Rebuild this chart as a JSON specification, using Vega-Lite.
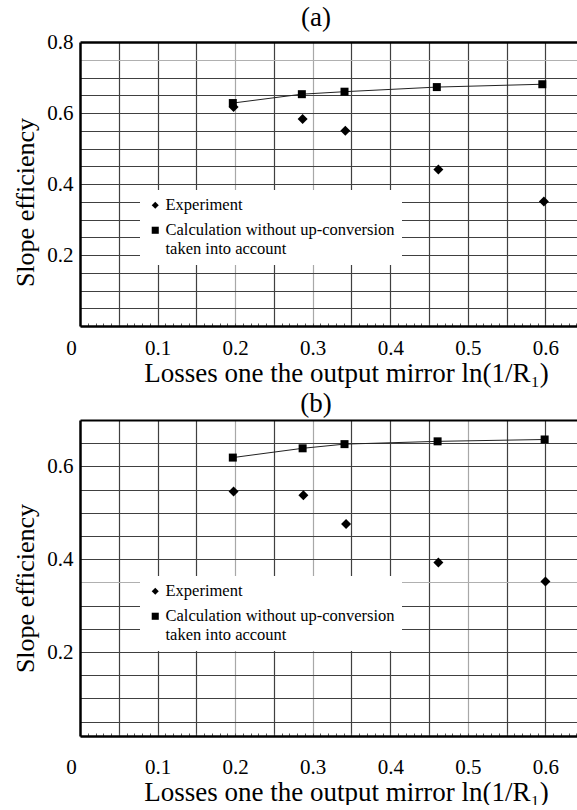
{
  "$schema": "https://vega.github.io/schema/vega-lite/v6.json",
  "background": "white",
  "padding": {"left": 12, "top": 4, "right": 0, "bottom": 0},
  "config": {
    "font": "Liberation Serif",
    "view": {"stroke": null},
    "concat": {"spacing": 4},
    "axis": {"labelFont": "Liberation Serif", "titleFont": "Liberation Serif", "labelColor": "black", "titleColor": "black", "titleFontWeight": "normal"}
  },
  "resolve": {"scale": {"x": "independent", "y": "independent", "shape": "independent"}, "legend": {"shape": "independent"}},
  "datasets": {
    "a": [
      {"series": "Experiment", "x": 0.198, "y": 0.617},
      {"series": "Experiment", "x": 0.287, "y": 0.583},
      {"series": "Experiment", "x": 0.342, "y": 0.550},
      {"series": "Experiment", "x": 0.462, "y": 0.441},
      {"series": "Experiment", "x": 0.598, "y": 0.351},
      {"series": "Calculation", "x": 0.197, "y": 0.628},
      {"series": "Calculation", "x": 0.286, "y": 0.653},
      {"series": "Calculation", "x": 0.341, "y": 0.660},
      {"series": "Calculation", "x": 0.460, "y": 0.673},
      {"series": "Calculation", "x": 0.596, "y": 0.681}
    ],
    "b": [
      {"series": "Experiment", "x": 0.198, "y": 0.546},
      {"series": "Experiment", "x": 0.288, "y": 0.538},
      {"series": "Experiment", "x": 0.343, "y": 0.476},
      {"series": "Experiment", "x": 0.462, "y": 0.393},
      {"series": "Experiment", "x": 0.600, "y": 0.352},
      {"series": "Calculation", "x": 0.197, "y": 0.619},
      {"series": "Calculation", "x": 0.287, "y": 0.639},
      {"series": "Calculation", "x": 0.341, "y": 0.648},
      {"series": "Calculation", "x": 0.461, "y": 0.654},
      {"series": "Calculation", "x": 0.599, "y": 0.658}
    ]
  },
  "vconcat": [
    {
      "width": 498,
      "height": 284,
      "title": {"text": "(a)", "fontSize": 27, "font": "Liberation Serif", "fontWeight": "normal", "color": "black", "anchor": "middle", "dx": -13, "offset": -1},
      "data": {"name": "a"},
      "encoding": {
        "x": {
          "field": "x", "type": "quantitative",
          "scale": {"domain": [0, 0.642], "nice": false, "zero": false},
          "axis": {
            "values": [0,0.01,0.02,0.03,0.04,0.05,0.06,0.07,0.08,0.09,0.1,0.11,0.12,0.13,0.14,0.15,0.16,0.17,0.18,0.19,0.2,0.21,0.22,0.23,0.24,0.25,0.26,0.27,0.28,0.29,0.3,0.31,0.32,0.33,0.34,0.35,0.36,0.37,0.38,0.39,0.4,0.41,0.42,0.43,0.44,0.45,0.46,0.47,0.48,0.49,0.5,0.51,0.52,0.53,0.54,0.55,0.56,0.57,0.58,0.59,0.6,0.61,0.62,0.63,0.64],
            "title": "Losses one the output mirror ln(1/R₁)",
            "titleFont": "Liberation Serif", "titleFontSize": 27, "titleX": 266, "titlePadding": 2,
            "labelExpr": "(round(datum.value*100) % 10 == 0 && datum.value < 0.65) ? (datum.value == 0 ? '0' : format(datum.value, '.1f')) : ''",
            "labelFont": "Liberation Serif", "labelFontSize": 21, "labelPadding": 14, "labelFlush": false, "labelOverlap": false, "labelBound": false,
            "labelOffset": {"condition": {"test": "datum.value == 0", "value": -9}, "value": 0},
            "tickSize": -3, "tickColor": "#555", "tickWidth": 1,
            "domainColor": "black", "domainWidth": 2.5,
            "grid": true,
            "gridColor": {"condition": {"test": "abs(datum.value-0.3) < 0.001 || abs(datum.value-0.2) < 0.001", "value": "#a8a8a8"}, "value": "#404040"},
            "gridOpacity": {"condition": {"test": "round(datum.value*100) % 5 == 0 && datum.value > 0", "value": 1}, "value": 0},
            "gridWidth": 1.2
          }
        },
        "y": {
          "field": "y", "type": "quantitative",
          "scale": {"domain": [0, 0.8], "nice": false, "zero": false},
          "axis": {
            "values": [0.05,0.1,0.15,0.2,0.25,0.3,0.35,0.4,0.45,0.5,0.55,0.6,0.65,0.7,0.75,0.8],
            "title": "Slope efficiency", "titleFont": "Liberation Serif", "titleFontSize": 26, "titleY": 160, "titlePadding": 8,
            "labelExpr": "round(datum.value*100) % 20 == 0 ? format(datum.value, '.1f') : ''",
            "labelFont": "Liberation Serif", "labelFontSize": 21, "labelPadding": 7, "labelOverlap": false,
            "ticks": false, "tickSize": 0,
            "domainColor": "black", "domainWidth": 2.5,
            "grid": true,
            "gridColor": {"condition": [{"test": "datum.value > 0.79", "value": "black"}, {"test": "abs(datum.value-0.75) < 0.001", "value": "#b0b0b0"}], "value": "#404040"},
            "gridWidth": {"condition": {"test": "datum.value > 0.79", "value": 2.5}, "value": 1.2}
          }
        }
      },
      "layer": [
        {
          "transform": [{"filter": "datum.series != 'Experiment'"}],
          "mark": {"type": "line", "color": "#222", "strokeWidth": 1},
          "encoding": {}
        },
        {
          "mark": {"type": "point", "filled": true, "opacity": 1, "color": "black"},
          "encoding": {
            "shape": {
              "field": "series", "type": "nominal",
              "scale": {"domain": ["Experiment", "Calculation"], "range": ["diamond", "square"]},
              "legend": {
                "orient": "none", "legendX": 60, "legendY": 148, "title": null,
                "fillColor": "white", "padding": 7, "rowPadding": 8,
                "labelFont": "Liberation Serif", "labelFontSize": 16.5, "labelColor": "black", "labelLimit": 0, "labelOffset": 2,
                "symbolSize": 50, "symbolFillColor": "black", "symbolStrokeWidth": 0,
                "labelExpr": "datum.label == 'Experiment' ? 'Experiment' : ['Calculation without up-conversion', 'taken into account']"
              }
            },
            "size": {"condition": {"test": "datum.series == 'Experiment'", "value": 100}, "value": 64}
          }
        }
      ]
    },
    {
      "width": 498,
      "height": 316,
      "title": {"text": "(b)", "fontSize": 27, "font": "Liberation Serif", "fontWeight": "normal", "color": "black", "anchor": "middle", "dx": -13, "offset": -9},
      "data": {"name": "b"},
      "encoding": {
        "x": {
          "field": "x", "type": "quantitative",
          "scale": {"domain": [0, 0.642], "nice": false, "zero": false},
          "axis": {
            "values": [0,0.01,0.02,0.03,0.04,0.05,0.06,0.07,0.08,0.09,0.1,0.11,0.12,0.13,0.14,0.15,0.16,0.17,0.18,0.19,0.2,0.21,0.22,0.23,0.24,0.25,0.26,0.27,0.28,0.29,0.3,0.31,0.32,0.33,0.34,0.35,0.36,0.37,0.38,0.39,0.4,0.41,0.42,0.43,0.44,0.45,0.46,0.47,0.48,0.49,0.5,0.51,0.52,0.53,0.54,0.55,0.56,0.57,0.58,0.59,0.6,0.61,0.62,0.63,0.64],
            "title": "Losses one the output mirror ln(1/R₁)",
            "titleFont": "Liberation Serif", "titleFontSize": 27, "titleX": 266, "titlePadding": 2,
            "labelExpr": "(round(datum.value*100) % 10 == 0 && datum.value < 0.65) ? (datum.value == 0 ? '0' : format(datum.value, '.1f')) : ''",
            "labelFont": "Liberation Serif", "labelFontSize": 21, "labelPadding": 23, "labelFlush": false, "labelOverlap": false, "labelBound": false,
            "labelOffset": {"condition": {"test": "datum.value == 0", "value": -9}, "value": 0},
            "tickSize": -3, "tickColor": "#555", "tickWidth": 1,
            "domainColor": "black", "domainWidth": 2.5,
            "grid": true,
            "gridColor": {"condition": {"test": "abs(datum.value-0.3) < 0.001 || abs(datum.value-0.2) < 0.001 || abs(datum.value-0.5) < 0.001", "value": "#a8a8a8"}, "value": "#404040"},
            "gridOpacity": {"condition": {"test": "round(datum.value*100) % 5 == 0 && datum.value > 0", "value": 1}, "value": 0},
            "gridWidth": 1.2
          }
        },
        "y": {
          "field": "y", "type": "quantitative",
          "scale": {"domain": [0.019, 0.7], "nice": false, "zero": false},
          "axis": {
            "values": [0.05,0.1,0.15,0.2,0.25,0.3,0.35,0.4,0.45,0.5,0.55,0.6,0.65,0.7],
            "title": "Slope efficiency", "titleFont": "Liberation Serif", "titleFontSize": 26, "titleY": 168, "titlePadding": 8,
            "labelExpr": "round(datum.value*100) % 20 == 0 ? format(datum.value, '.1f') : ''",
            "labelFont": "Liberation Serif", "labelFontSize": 21, "labelPadding": 7, "labelOverlap": false,
            "ticks": false, "tickSize": 0,
            "domainColor": "black", "domainWidth": 2.5,
            "grid": true,
            "gridColor": {"condition": [{"test": "datum.value > 0.69", "value": "black"}, {"test": "abs(datum.value-0.35) < 0.001", "value": "#b0b0b0"}], "value": "#404040"},
            "gridWidth": {"condition": {"test": "datum.value > 0.69", "value": 2}, "value": 1.2}
          }
        }
      },
      "layer": [
        {
          "transform": [{"filter": "datum.series != 'Experiment'"}],
          "mark": {"type": "line", "color": "#222", "strokeWidth": 1},
          "encoding": {}
        },
        {
          "mark": {"type": "point", "filled": true, "opacity": 1, "color": "black"},
          "encoding": {
            "shape": {
              "field": "series", "type": "nominal",
              "scale": {"domain": ["Experiment", "Calculation"], "range": ["diamond", "square"]},
              "legend": {
                "orient": "none", "legendX": 60, "legendY": 156, "title": null,
                "fillColor": "white", "padding": 7, "rowPadding": 8,
                "labelFont": "Liberation Serif", "labelFontSize": 16.5, "labelColor": "black", "labelLimit": 0, "labelOffset": 2,
                "symbolSize": 50, "symbolFillColor": "black", "symbolStrokeWidth": 0,
                "labelExpr": "datum.label == 'Experiment' ? 'Experiment' : ['Calculation without up-conversion', 'taken into account']"
              }
            },
            "size": {"condition": {"test": "datum.series == 'Experiment'", "value": 100}, "value": 64}
          }
        }
      ]
    }
  ]
}
